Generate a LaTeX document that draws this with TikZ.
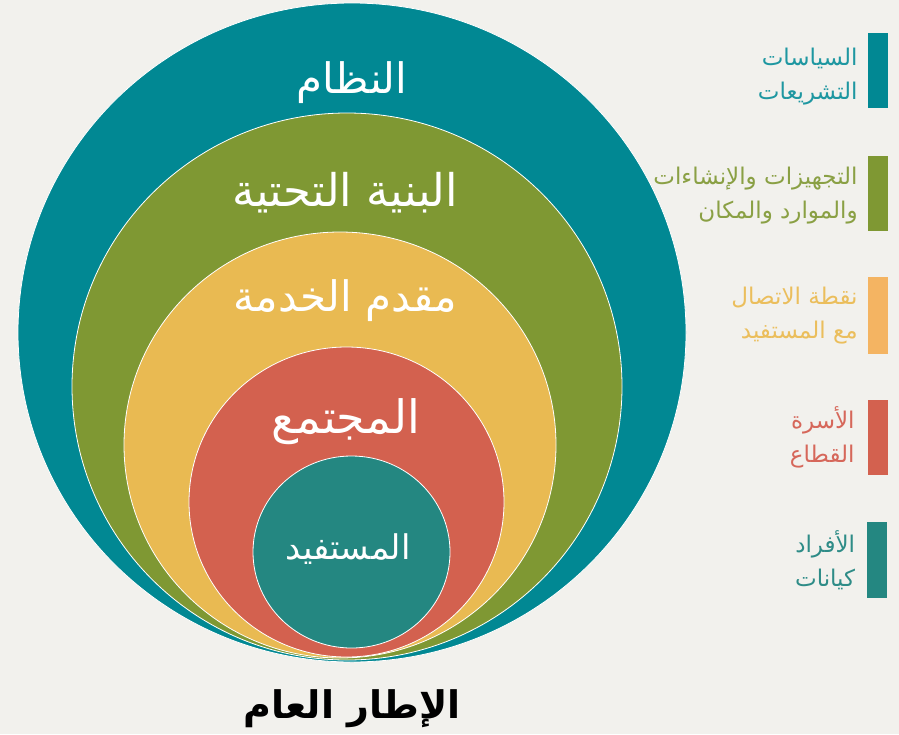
\documentclass[tikz,border=0pt]{standalone}
\usepackage{fontspec}
\usetikzlibrary{positioning}
\newfontfamily\arabicfont[Script=Arabic]{DejaVu Sans}
\TeXXeTstate=1
\newcommand{\artext}[1]{\beginR #1\endR}
\newcommand{\fs}[1]{\fontsize{#1}{#1}\selectfont}
\definecolor{paper}{HTML}{F2F1ED}
\definecolor{systemteal}{HTML}{018893}
\definecolor{infragreen}{HTML}{7F9833}
\definecolor{provideryellow}{HTML}{E9BA52}
\definecolor{communityred}{HTML}{D3614F}
\definecolor{userteal}{HTML}{248781}
\definecolor{contactorange}{HTML}{F4B462}
\definecolor{lawtext}{HTML}{1E97A1}
\definecolor{equiptext}{HTML}{8AA044}
\definecolor{contacttext}{HTML}{EBBE5C}
\definecolor{sectortext}{HTML}{D6675A}
\definecolor{persontext}{HTML}{2E8C87}
\begin{document}
\begin{tikzpicture}[x=1pt,y=-1pt,
  ring/.style={draw=white,line width=0.8pt},
  ringlabel/.style={text=white,inner sep=0pt,font=\arabicfont\fs{44}},
  legendbar/.style={minimum width=20pt,minimum height=75pt,inner sep=0pt},
  legendtext/.style={inner sep=0pt,align=right,font=\arabicfont\fontsize{23}{34}\selectfont}]
\fill[paper] (0,0) rectangle (899,734);
\useasboundingbox (0,0) rectangle (899,734);
% nested circles, all touching at the bottom
\draw[ring,fill=systemteal] (352,332.5) circle [x radius=334,y radius=329.5];
\draw[ring,fill=infragreen] (347,386.5) circle [x radius=275,y radius=273.5];
\draw[ring,fill=provideryellow] (340,445) circle [x radius=216,y radius=213];
\draw[ring,fill=communityred] (346.5,502) circle [x radius=157.5,y radius=155];
\draw[ring,fill=userteal] (351.5,552) circle [x radius=98.5,y radius=96];
\node[ringlabel,font=\arabicfont\fs{42}] (system) at (352,83) {\artext{النظام}};
\node[ringlabel,font=\arabicfont\fs{45}] (infra) at (345,193) {\artext{البنية التحتية}};
\node[ringlabel,font=\arabicfont\fs{42}] (provider) at (345,301) {\artext{مقدم الخدمة}};
\node[ringlabel,font=\arabicfont\fs{46}] (community) at (346,422) {\artext{المجتمع}};
\node[ringlabel,font=\arabicfont\fs{34}] (user) at (348,549) {\artext{المستفيد}};
\node[inner sep=0pt,font=\arabicfont\bfseries\fs{38}] (frame) at (352,709) {\artext{الإطار العام}};
% legend
\node[legendbar,fill=systemteal] (bar1) at (878,70.5) {};
\node[legendbar,fill=infragreen] (bar2) at (878,193.5) {};
\node[legendbar,fill=contactorange,minimum height=77pt] (bar3) at (878,315.5) {};
\node[legendbar,fill=communityred] (bar4) at (878,437.5) {};
\node[legendbar,fill=userteal,minimum height=76pt] (bar5) at (876.5,560) {};
\node[legendtext,text=lawtext,left=10pt of bar1,yshift=-6pt] (leg1) {\artext{السياسات}\\\artext{التشريعات}};
\node[legendtext,text=equiptext,left=10pt of bar2,yshift=-2pt] (leg2) {\artext{التجهيزات والإنشاءات}\\\artext{والموارد والمكان}};
\node[legendtext,text=contacttext,left=10pt of bar3] (leg3) {\artext{نقطة الاتصال}\\\artext{مع المستفيد}};
\node[legendtext,text=sectortext,left=13pt of bar4] (leg4) {\artext{الأسرة}\\\artext{القطاع}};
\node[legendtext,text=persontext,left=11pt of bar5] (leg5) {\artext{الأفراد}\\\artext{كيانات}};
\end{tikzpicture}
\end{document}
